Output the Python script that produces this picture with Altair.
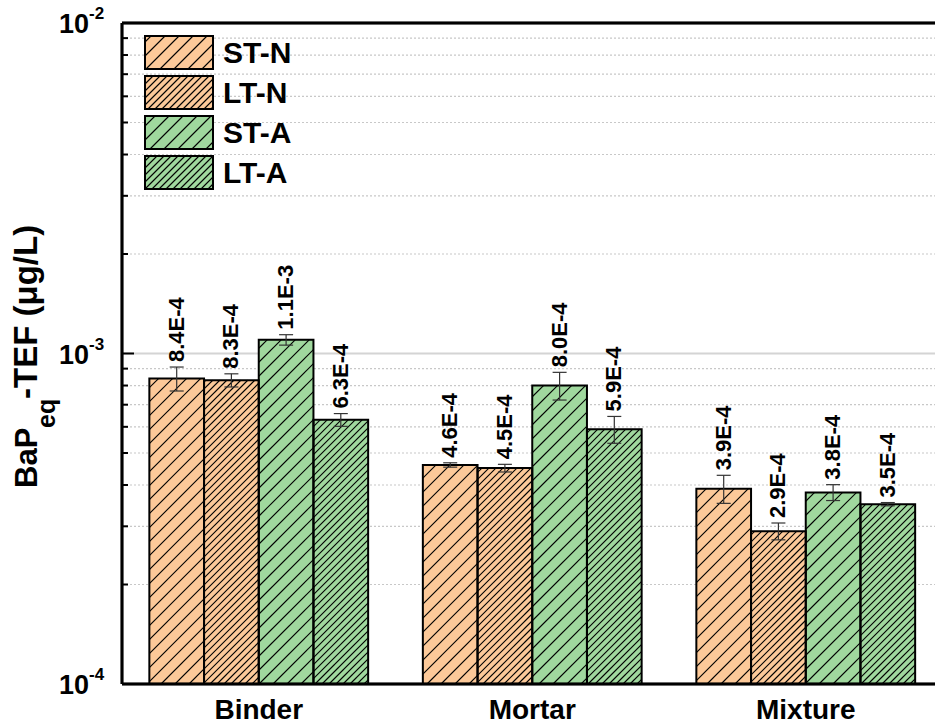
import math
import altair as alt
import pandas as pd

# ---- data -------------------------------------------------------------
groups = ["Binder", "Mortar", "Mixture"]
series = ["ST-N", "LT-N", "ST-A", "LT-A"]
# mean BaPeq-TEF (ug/L), in units of 1e-4
mean_e4 = [
    [8.4, 8.3, 11.0, 6.3],
    [4.6, 4.5, 8.0, 5.9],
    [3.9, 2.9, 3.8, 3.5],
]
# standard deviation, in units of 1e-4
sd_e4 = [
    [0.70, 0.38, 0.40, 0.28],
    [0.07, 0.12, 0.77, 0.55],
    [0.38, 0.17, 0.21, 0.04],
]

# ---- styling ----------------------------------------------------------
ORANGE, GREEN = "#FCC999", "#A0D89E"
fills = [ORANGE, ORANGE, GREEN, GREEN]
hatch_gap = [14, 7, 14, 7]  # horizontal spacing of the "/" hatch lines
FONT = "Liberation Sans"

W, H = 813, 661
GROUP_PX = 273.5
X_MIN = -0.5
X_MAX = X_MIN + W / GROUP_PX
Y_MIN, Y_MAX = 1e-4, 1e-2
DECADE_PX = H / math.log10(Y_MAX / Y_MIN)
BAR_W = 0.2
CAP_HALF = 7 / GROUP_PX

xs = alt.Scale(domain=[X_MIN, X_MAX], nice=False, zero=False)
ys = alt.Scale(type="log", domain=[Y_MIN, Y_MAX], nice=False)


def px_x(p):
    return X_MIN + p / GROUP_PX


def x_px(u):
    return (u - X_MIN) * GROUP_PX


def px_y(p):
    return Y_MIN * 10 ** ((H - p) / DECADE_PX)


def y_px(v):
    return H - math.log10(v / Y_MIN) * DECADE_PX


def sci(v):
    e = math.floor(math.log10(v) + 1e-9)
    return f"{v / 10 ** e:.1f}E{e}"


def hatch(xl, xr, yt, yb, gap):
    """45-degree '/' segments clipped to a pixel rectangle."""
    segs = []
    c = math.ceil((xl + yt) / gap) * gap
    while c <= xr + yb:
        lo, hi = max(xl, c - yb), min(xr, c - yt)
        if hi - lo > 0.5:
            segs.append((lo, c - lo, hi, c - hi))
        c += gap
    return segs


# ---- tables ------------------------------------------------------------
bars, errs, caps, hatches = [], [], [], []
for gi, g in enumerate(groups):
    for si, s in enumerate(series):
        v = mean_e4[gi][si] * 1e-4
        sd = sd_e4[gi][si] * 1e-4
        xc = gi + (si - 1.5) * BAR_W
        x0, x1 = xc - BAR_W / 2, xc + BAR_W / 2
        bars.append(dict(series=s, x0=x0, x1=x1, v=v, base=Y_MIN, label=sci(v)))
        errs.append(dict(xc=xc, lo=v - sd, hi=v + sd, label=sci(v)))
        for yv in (v - sd, v + sd):
            caps.append(dict(a=xc - CAP_HALF, b=xc + CAP_HALF, y=yv))
        for (ax, ay, bx, by) in hatch(x_px(x0), x_px(x1), y_px(v), H, hatch_gap[si]):
            hatches.append(dict(x=px_x(ax), y=px_y(ay), x2=px_x(bx), y2=px_y(by)))

# legend patches (laid out in pixels, stored in data units)
LEG_X0, LEG_X1, LEG_TOP, LEG_H, LEG_STEP = 23, 91, 13, 33, 40
legend_rects, legend_text = [], []
for si, s in enumerate(series):
    top = LEG_TOP + si * LEG_STEP
    legend_rects.append(dict(series=s, x0=px_x(LEG_X0), x1=px_x(LEG_X1),
                             v=px_y(top), base=px_y(top + LEG_H)))
    legend_text.append(dict(t=s, x=px_x(LEG_X1 + 10), y=px_y(top + LEG_H / 2)))
    for (ax, ay, bx, by) in hatch(LEG_X0, LEG_X1, top, top + LEG_H, hatch_gap[si]):
        hatches.append(dict(x=px_x(ax), y=px_y(ay), x2=px_x(bx), y2=px_y(by)))

bar_df = pd.DataFrame(bars + legend_rects)
err_df = pd.DataFrame(errs)
cap_df = pd.DataFrame(caps)
hatch_df = pd.DataFrame(hatches)
leg_df = pd.DataFrame(legend_text)

minor_vals = [k * 10.0 ** e for e in (-4, -3) for k in range(2, 10)]
major_vals = [1e-3, 1e-2]
minor_df = pd.DataFrame({"v": minor_vals})
major_df = pd.DataFrame({"v": major_vals})
tick_major_df = pd.DataFrame({"v": [1e-4, 1e-3, 1e-2], "sup": ["-4", "-3", "-2"]})
group_df = pd.DataFrame({"g": groups, "x": list(range(len(groups)))})

color = alt.Color("series:N", scale=alt.Scale(domain=series, range=fills), legend=None)

# ---- layers -----------------------------------------------------------
grid_minor = alt.Chart(minor_df).mark_rule(color="#C8C8C8", strokeWidth=1.2, strokeDash=[2, 2]).encode(
    x=alt.value(0), x2=alt.value(W), y=alt.Y("v:Q", scale=ys, axis=None))
grid_major = alt.Chart(major_df).mark_rule(color="#D4D4D4", strokeWidth=2).encode(
    x=alt.value(0), x2=alt.value(W), y=alt.Y("v:Q", scale=ys, axis=None))

bar_fill = alt.Chart(bar_df).mark_rect(strokeWidth=0).encode(
    x=alt.X("x0:Q", scale=xs, axis=None), x2="x1:Q",
    y=alt.Y("v:Q", scale=ys, axis=None), y2="base:Q", color=color)
bar_hatch = alt.Chart(hatch_df).mark_rule(color="#000000", strokeWidth=1.1).encode(
    x=alt.X("x:Q", scale=xs, axis=None), x2="x2:Q",
    y=alt.Y("y:Q", scale=ys, axis=None), y2="y2:Q")
bar_edge = alt.Chart(bar_df).mark_rect(fillOpacity=0, stroke="black", strokeWidth=2).encode(
    x=alt.X("x0:Q", scale=xs, axis=None), x2="x1:Q",
    y=alt.Y("v:Q", scale=ys, axis=None), y2="base:Q")

err_stem = alt.Chart(err_df).mark_rule(color="#333333", strokeWidth=1.2).encode(
    x=alt.X("xc:Q", scale=xs, axis=None),
    y=alt.Y("lo:Q", scale=ys, axis=None), y2="hi:Q")
err_cap = alt.Chart(cap_df).mark_rule(color="#333333", strokeWidth=1.2).encode(
    x=alt.X("a:Q", scale=xs, axis=None), x2="b:Q",
    y=alt.Y("y:Q", scale=ys, axis=None))
value_labels = alt.Chart(err_df).mark_text(
    angle=270, align="left", baseline="middle", dx=5,
    font=FONT, fontSize=22, fontWeight="bold", color="black").encode(
    x=alt.X("xc:Q", scale=xs, axis=None),
    y=alt.Y("hi:Q", scale=ys, axis=None), text="label:N")

# frame: left, top, bottom
frame_left = alt.Chart(group_df).mark_rule(color="black", strokeWidth=2.5).encode(
    x=alt.value(0), y=alt.value(0), y2=alt.value(H))
frame_top = alt.Chart(group_df).mark_rule(color="black", strokeWidth=2.5).encode(
    x=alt.value(0), x2=alt.value(W), y=alt.value(0))
frame_bottom = alt.Chart(group_df).mark_rule(color="black", strokeWidth=2.5).encode(
    x=alt.value(0), x2=alt.value(W), y=alt.value(H))

# inward ticks on the y axis
ticks_major = alt.Chart(tick_major_df).mark_rule(color="black", strokeWidth=2).encode(
    x=alt.value(0), x2=alt.value(12), y=alt.Y("v:Q", scale=ys, axis=None))
ticks_minor = alt.Chart(minor_df).mark_rule(color="black", strokeWidth=2).encode(
    x=alt.value(0), x2=alt.value(6), y=alt.Y("v:Q", scale=ys, axis=None))

# y tick labels as 10 with a superscript exponent
tick_base = alt.Chart(tick_major_df).mark_text(
    text="10", align="right", baseline="alphabetic", dy=10,
    font=FONT, fontSize=27, fontWeight="bold", color="black").encode(
    x=alt.value(-33), y=alt.Y("v:Q", scale=ys, axis=None))
tick_sup = alt.Chart(tick_major_df).mark_text(
    align="left", baseline="alphabetic", dy=-4,
    font=FONT, fontSize=17, fontWeight="bold", color="black").encode(
    x=alt.value(-33), y=alt.Y("v:Q", scale=ys, axis=None), text="sup:N")

# y axis title with subscript
title_a = alt.Chart(group_df.head(1)).mark_text(
    text="BaP", angle=270, align="left", baseline="alphabetic",
    font=FONT, fontSize=31, fontWeight="bold", color="black").encode(
    x=alt.value(-85), y=alt.value(465))
title_b = alt.Chart(group_df.head(1)).mark_text(
    text="eq", angle=270, align="left", baseline="alphabetic",
    font=FONT, fontSize=25, fontWeight="bold", color="black").encode(
    x=alt.value(-67), y=alt.value(405))
title_c = alt.Chart(group_df.head(1)).mark_text(
    text="-TEF (μg/L)", angle=270, align="left", baseline="alphabetic",
    font=FONT, fontSize=33, fontWeight="bold", color="black").encode(
    x=alt.value(-85), y=alt.value(376))

# x category labels
group_labels = alt.Chart(group_df).mark_text(
    align="center", baseline="alphabetic",
    font=FONT, fontSize=28, fontWeight="bold", color="black").encode(
    x=alt.X("x:Q", scale=xs, axis=None), y=alt.value(H + 35), text="g:N")

legend_labels = alt.Chart(leg_df).mark_text(
    align="left", baseline="middle", dy=1,
    font=FONT, fontSize=30, fontWeight="bold", color="black").encode(
    x=alt.X("x:Q", scale=xs, axis=None),
    y=alt.Y("y:Q", scale=ys, axis=None), text="t:N")

chart = alt.layer(
    grid_minor, grid_major, bar_fill, bar_hatch, bar_edge,
    err_stem, err_cap, value_labels,
    frame_left, frame_top, frame_bottom, ticks_major, ticks_minor,
    tick_base, tick_sup, title_a, title_b, title_c,
    group_labels, legend_labels,
).properties(
    width=W, height=H,
    padding={"left": 122, "top": 23, "right": 0, "bottom": 43},
    autosize=alt.AutoSizeParams(type="none"),
    background="white",
).configure_view(stroke=None)

chart.save("out.html", embed_options={"renderer": "svg", "actions": False})
